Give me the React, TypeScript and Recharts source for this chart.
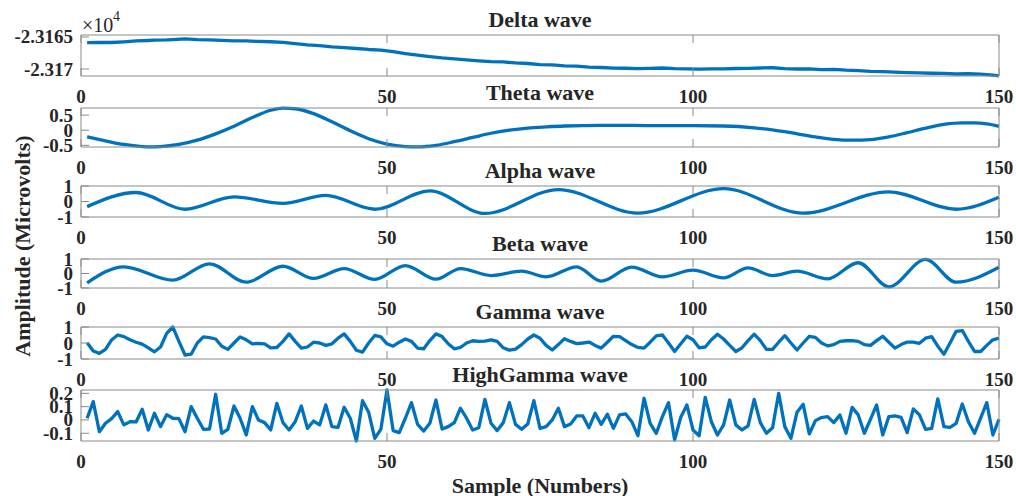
import React from 'react';
import { LineChart, Line, XAxis, YAxis } from 'recharts';

const W = 1016;
const BLUE = '#0072BD';
const AXIS = '#8a8a8a';
const TEXT = '#262626';
const FONT = '"Liberation Serif", "Times New Roman", serif';

const xTicks = [0, 50, 100, 150];

// ---- Delta wave (microvolts) ----
const deltaX = [1,3,5,7,9,11,12,14,15,17,19,21,23,25,27,29,31,33,35,37,39,41,43,45,47,49,51,53,55,57,59,61,63,65,67,69,71,73,75,77,79,81,83,85,87,89,91,93,95,97,99,101,103,105,107,109,111,113,115,117,119,121,123,125,127,129,131,133,135,137,139,141,143,145,147,148,149,150];
const deltaV = [-23165.89,-23165.84,-23165.86,-23165.76,-23165.62,-23165.55,-23165.5,-23165.46,-23165.41,-23165.31,-23165.42,-23165.46,-23165.52,-23165.6,-23165.62,-23165.7,-23165.74,-23165.83,-23166.02,-23166.22,-23166.36,-23166.55,-23166.66,-23166.8,-23166.95,-23167.05,-23167.3,-23167.58,-23167.82,-23168.05,-23168.26,-23168.42,-23168.56,-23168.72,-23168.84,-23168.9,-23169.05,-23169.14,-23169.3,-23169.36,-23169.5,-23169.56,-23169.7,-23169.76,-23169.85,-23169.88,-23169.95,-23169.9,-23169.84,-23169.94,-23169.98,-23170.02,-23169.97,-23169.99,-23169.92,-23169.9,-23169.84,-23169.8,-23169.93,-23170.0,-23169.97,-23170.08,-23170.05,-23170.18,-23170.25,-23170.36,-23170.4,-23170.47,-23170.55,-23170.6,-23170.66,-23170.68,-23170.78,-23170.74,-23170.8,-23170.86,-23170.95,-23171.06];
const deltaTicks = [-23170, -23165];
const deltaTickLabels = ['-2.317', '-2.3165'];

// ---- Theta wave ----
const thetaX = [1,4,7,10,11,13,16,19,22,25,28,31,33,35,38,41,44,47,50,53,55,58,61,64,67,70,73,76,79,85,90,95,100,105,110,115,120,123,126,129,132,135,138,141,144,146,148,150];
const thetaV = [-0.22,-0.35,-0.47,-0.54,-0.55,-0.54,-0.47,-0.33,-0.12,0.13,0.42,0.66,0.73,0.71,0.55,0.28,-0.02,-0.28,-0.46,-0.54,-0.55,-0.5,-0.38,-0.24,-0.1,0.0,0.07,0.11,0.14,0.16,0.16,0.15,0.15,0.14,0.08,-0.05,-0.22,-0.3,-0.33,-0.31,-0.22,-0.08,0.07,0.19,0.24,0.24,0.21,0.13];
const thetaTicks = [-0.5, 0, 0.5];

// ---- Alpha wave ----
const alphaX = [1,9,17,25,33,40,48,57,66,78,91,105,118,132,143,150];
const alphaV = [-0.33,0.58,-0.5,0.3,-0.12,0.39,-0.5,0.68,-0.77,0.77,-0.75,0.83,-0.75,0.62,-0.5,0.27];

// ---- Beta wave ----
const betaX = [1,7,15,21,27,33,38,43,48,53,58,62,67,72,76,81,85,90,95,100,105,109,113,117,122,127,132,138,143,150];
const betaV = [-0.64,0.46,-0.46,0.67,-0.6,0.5,-0.34,0.34,-0.41,0.55,-0.39,0.34,-0.14,0.16,-0.23,0.46,-0.53,0.44,-0.23,0.23,-0.3,0.39,-0.14,0.16,-0.37,0.74,-0.92,0.97,-0.6,0.43];

const unitTicks = [-1, 0, 1];

// ---- Gamma wave (samples 1..150) ----
const gammaV = [0.02,-0.5,-0.65,-0.4,0.19,0.5,0.4,0.2,0.05,-0.07,-0.3,-0.55,-0.25,0.6,1.0,0.1,-0.75,-0.7,0.0,0.38,0.33,0.25,-0.2,-0.4,0.0,0.38,0.2,-0.05,-0.03,-0.05,-0.3,-0.28,0.1,0.57,0.1,-0.32,-0.25,0.05,0.0,-0.15,-0.05,0.3,0.57,0.1,-0.45,-0.57,0.0,0.47,0.38,-0.05,-0.2,0.05,0.25,0.1,-0.32,-0.36,0.15,0.57,0.4,-0.05,-0.36,-0.28,0.0,0.14,0.1,0.12,0.2,0.1,-0.3,-0.45,-0.38,-0.1,0.25,0.5,0.3,-0.15,-0.44,-0.1,0.27,0.1,-0.04,0.0,0.06,-0.15,-0.32,0.05,0.42,0.4,0.15,-0.1,-0.28,-0.32,0.05,0.45,0.5,0.0,-0.53,-0.05,0.42,0.2,-0.3,-0.25,0.2,0.55,0.25,-0.15,-0.53,-0.3,0.15,0.55,0.15,-0.4,-0.4,0.05,0.46,0.0,-0.44,0.0,0.42,0.35,0.0,-0.18,-0.1,0.1,0.14,0.15,0.1,-0.1,-0.15,0.15,0.42,0.05,-0.32,-0.1,0.06,0.05,-0.02,0.3,0.4,-0.2,-0.7,0.0,0.73,0.78,0.1,-0.53,-0.53,-0.15,0.2,0.3];

// ---- HighGamma wave (samples 1..150) ----
const highGammaV = [0.013,0.138,-0.088,-0.025,0.01,0.063,-0.037,-0.013,-0.015,0.08,-0.075,0.05,-0.05,0.04,0.013,0.01,-0.088,0.1,0.013,-0.07,-0.068,0.193,-0.1,-0.07,0.105,0.013,-0.1125,0.1,0.0,-0.02,-0.075,0.125,-0.02,-0.075,-0.013,0.105,-0.063,-0.008,-0.037,0.113,-0.05,-0.055,0.095,0.013,-0.158,0.145,0.058,-0.138,-0.07,0.225,-0.08,-0.095,0.013,0.13,-0.033,-0.083,-0.025,0.15,-0.068,-0.05,-0.02,0.088,0.013,-0.075,-0.058,0.155,-0.025,-0.08,-0.02,0.13,-0.033,-0.07,-0.03,0.145,-0.063,-0.05,0.0,0.088,-0.05,-0.03,0.03,0.03,-0.058,0.05,-0.033,0.043,-0.063,0.038,0.045,-0.013,-0.118,0.163,-0.025,-0.1,0.025,0.13,-0.15,0.02,0.113,-0.075,-0.118,0.17,-0.013,-0.113,-0.037,0.15,-0.037,-0.075,-0.045,0.155,-0.02,-0.1,-0.058,0.2,-0.05,-0.138,0.058,0.118,-0.105,-0.005,0.018,0.025,-0.02,0.038,-0.1,0.095,0.038,-0.1,0.005,0.113,-0.113,0.025,0.03,0.02,-0.095,0.083,0.038,-0.07,-0.063,0.158,-0.05,-0.055,-0.025,0.12,-0.013,-0.1,0.013,0.13,-0.113,0.005];
const highGammaTicks = [-0.1, 0, 0.1, 0.2];

const titles = ['Delta wave', 'Theta wave', 'Alpha wave', 'Beta wave', 'Gamma wave', 'HighGamma wave'];

type Pt = { x: number; v: number };
const zipXY = (xs: number[], vs: number[]): Pt[] => xs.map((x, i) => ({ x, v: vs[i] }));
const seq = (vs: number[]): Pt[] => vs.map((v, i) => ({ x: i + 1, v }));

const TL = 8; // inward tick length
const pad = 30;
const TICK_FS = 19;

const BottomTick = (p: any) => (
  <g>
    <line x1={p.x} x2={p.x} y1={p.y} y2={p.y - TL} stroke={AXIS} strokeWidth={1} />
    <text x={p.x} y={p.y + 20} textAnchor="middle" dominantBaseline="central" fontFamily={FONT} fontWeight="bold" fontSize={TICK_FS} fill={TEXT}>
      {p.payload.value}
    </text>
  </g>
);
const TopTick = (p: any) => (
  <line x1={p.x} x2={p.x} y1={p.y} y2={p.y + TL} stroke={AXIS} strokeWidth={1} />
);
const RightTick = (p: any) => (
  <line x1={p.x} x2={p.x - TL} y1={p.y} y2={p.y} stroke={AXIS} strokeWidth={1} />
);
const makeLeftTick = (fmt: (v: number) => string) => (p: any) => (
  <g>
    <line x1={p.x} x2={p.x + TL} y1={p.y} y2={p.y} stroke={AXIS} strokeWidth={1} />
    <text x={p.x - 8} y={p.y} textAnchor="end" dominantBaseline="central" fontFamily={FONT} fontWeight="bold" fontSize={TICK_FS} fill={TEXT}>
      {fmt(p.payload.value)}
    </text>
  </g>
);

type PanelProps = {
  data: Pt[];
  top: number;
  bottom: number;
  domain: [number, number];
  yTicks: number[];
  fmt: (v: number) => string;
  curve: 'linear' | 'monotone';
};

function Panel({ data, top, bottom, domain, yTicks, fmt, curve }: PanelProps) {
  const h = bottom - top + 2 * pad;
  return (
    <div style={{ position: 'absolute', left: 0, top: top - pad, width: W, height: h }}>
      <LineChart width={W} height={h} data={data} margin={{ top: 0, right: 0, bottom: 0, left: 0 }}>
        <XAxis xAxisId="b" dataKey="x" type="number" domain={[0, 150]} ticks={xTicks} interval={0} orientation="bottom" height={pad} tickSize={0} tickMargin={0} tickLine={false} axisLine={{ stroke: AXIS }} tick={BottomTick} />
        <XAxis xAxisId="t" dataKey="x" type="number" domain={[0, 150]} ticks={xTicks} interval={0} orientation="top" height={pad} tickSize={0} tickMargin={0} tickLine={false} axisLine={{ stroke: AXIS }} tick={TopTick} />
        <YAxis yAxisId="l" type="number" domain={domain} ticks={yTicks} interval={0} orientation="left" width={81} tickSize={0} tickMargin={0} tickLine={false} axisLine={{ stroke: AXIS }} tick={makeLeftTick(fmt)} />
        <YAxis yAxisId="r" type="number" domain={domain} ticks={yTicks} interval={0} orientation="right" width={17} tickSize={0} tickMargin={0} tickLine={false} axisLine={{ stroke: AXIS }} tick={RightTick} />
        <Line xAxisId="b" yAxisId="l" dataKey="v" type={curve} stroke={BLUE} strokeWidth={3.3} dot={false} activeDot={false} isAnimationActive={false} strokeLinejoin="round" />
      </LineChart>
    </div>
  );
}

const num = (v: number) => String(v);
const deltaFmt = (v: number) => deltaTickLabels[deltaTicks.indexOf(v)] ?? String(v / 1e4);

const panels = [
  { data: zipXY(deltaX, deltaV), top: 35, bottom: 76, domain: [-23171.09, -23164.69] as [number, number], yTicks: deltaTicks, fmt: deltaFmt, curve: 'linear' as const },
  { data: zipXY(thetaX, thetaV), top: 108, bottom: 147, domain: [-0.555, 0.735] as [number, number], yTicks: thetaTicks, fmt: num, curve: 'monotone' as const },
  { data: zipXY(alphaX, alphaV), top: 186, bottom: 217, domain: [-1, 1] as [number, number], yTicks: unitTicks, fmt: num, curve: 'monotone' as const },
  { data: zipXY(betaX, betaV), top: 259, bottom: 288, domain: [-1, 1] as [number, number], yTicks: unitTicks, fmt: num, curve: 'monotone' as const },
  { data: seq(gammaV), top: 327, bottom: 359, domain: [-1, 1] as [number, number], yTicks: unitTicks, fmt: num, curve: 'linear' as const },
  { data: seq(highGammaV), top: 390, bottom: 441, domain: [-0.158, 0.225] as [number, number], yTicks: highGammaTicks, fmt: num, curve: 'linear' as const },
];

export default function App() {
  return (
    <div style={{ position: 'absolute', left: 0, top: 0, width: W, height: 496, background: '#fff', overflow: 'hidden' }}>
      {panels.map((p, i) => (
        <Panel key={i} {...p} />
      ))}
      <svg width={W} height={496} style={{ position: 'absolute', left: 0, top: 0, pointerEvents: 'none' }}>
        {panels.map((p, i) => (
          <text key={i} x={540} y={p.top - 15.5} textAnchor="middle" dominantBaseline="central" fontFamily={FONT} fontWeight="bold" fontSize={22} fill={TEXT}>
            {titles[i]}
          </text>
        ))}
        <text x={82} y={32} fontFamily={FONT} fontSize={20} fill={TEXT}>
          ×10
        </text>
        <text x={113} y={21} fontFamily={FONT} fontSize={14} fill={TEXT}>
          4
        </text>
        <text x={540} y={485} textAnchor="middle" dominantBaseline="central" fontFamily={FONT} fontWeight="bold" fontSize={22} fill={TEXT}>
          Sample (Numbers)
        </text>
        <text x={22} y={246} transform="rotate(-90 22 246)" textAnchor="middle" dominantBaseline="central" fontFamily={FONT} fontWeight="bold" fontSize={22} fill={TEXT}>
          Amplitude (Microvolts)
        </text>
      </svg>
    </div>
  );
}
